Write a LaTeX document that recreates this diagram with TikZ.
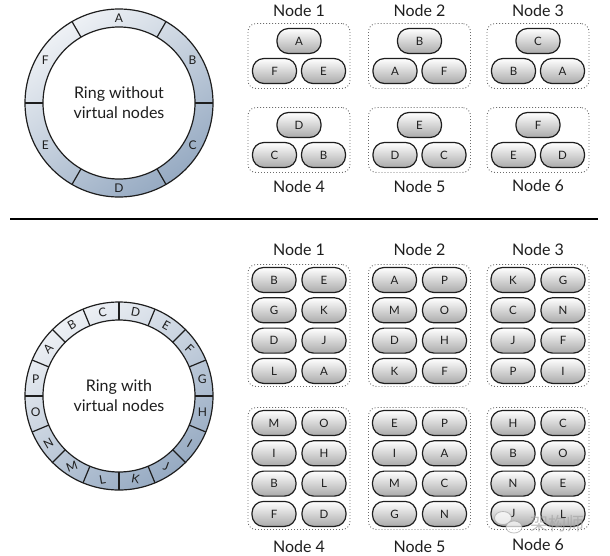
\documentclass[tikz,border=0pt]{standalone}
\usepackage{fontspec}
\setmainfont{Lato}
\newfontfamily\cjkfont{Noto Sans CJK SC}
\usetikzlibrary{shapes.geometric}
\definecolor{ringlight}{HTML}{EEF1F5}
\definecolor{ringmid}{HTML}{D6DDE7}
\definecolor{ringdark}{HTML}{96AAC2}
\definecolor{pillgray}{HTML}{AAAAAA}
\definecolor{ink}{HTML}{1E1E1E}
\tikzset{
  pill/.style={draw=ink, line width=1.2pt, rounded corners=11.5pt, minimum width=44pt,
    minimum height=25pt, inner sep=0pt, top color=white, bottom color=pillgray,
    font=\fontsize{11.5}{13}\selectfont, text=ink},
  groupbox/.style={draw=gray!85!black, line width=0.9pt, dash pattern=on 0.9pt off 2.1pt,
    rounded corners=8pt, minimum width=102pt, inner sep=0pt},
  nodelabel/.style={font=\fontsize{16}{18}\selectfont, text=ink, inner sep=0pt},
  ringlabel/.style={font=\fontsize{12}{14}\selectfont, text=ink, inner sep=0pt},
  ringtitle/.style={font=\fontsize{16}{20}\selectfont, align=center, text=ink},
  ringline/.style={draw=ink, line width=1.2pt},
}
\begin{document}
\begin{tikzpicture}[x=1pt,y=1pt]
\useasboundingbox (0,0) rectangle (610,-555);
\fill[white] (0,0) rectangle (610,-555);

% ---------- top ring ----------
\begin{scope}[shift={(119,-103)}]
  \shade[top color=ringlight, middle color=ringmid, bottom color=ringdark, shading angle=35] (0,0) circle (94);
  \fill[white] (0,0) circle (76);
  \draw[ringline] (0,0) circle (94) (0,0) circle (76);
  \foreach \a in {0,60,...,300} \draw[ringline] (\a:76) -- (\a:94);
  \foreach \a/\l in {90/A,30/B,-30/C,-90/D,210/E,150/F}
    \node[ringlabel] (ra\l) at (\a:85) {\l};
  \node[ringtitle] (title1) at (0,0) {Ring without\\virtual nodes};
\end{scope}

% ---------- top groups ----------
\foreach \cx/\cy/\n/\t/\l/\r/\ly in {
  299/56/1/A/F/E/11, 419.5/56/2/B/A/F/11, 538/56/3/C/B/A/11,
  299/140/4/D/C/B/187, 419.5/140/5/E/D/C/187, 538/140/6/F/E/D/186}{
  \node[groupbox, minimum height=65pt] (ga\n) at (\cx,-\cy) {};
  \node[pill] (ga\n t) at (\cx,-\cy+15) {\t};
  \node[pill] (ga\n l) at (\cx-24.5,-\cy-15) {\l};
  \node[pill] (ga\n r) at (\cx+24.5,-\cy-15) {\r};
  \node[nodelabel] (la\n) at (\cx,-\ly) {Node \n};
}

% ---------- separator ----------
\coordinate (sepL) at (10,-219);
\coordinate (sepR) at (598,-219);
\draw[black, line width=2.5pt] (sepL) -- (sepR);

% ---------- bottom ring ----------
\begin{scope}[shift={(119,-396)}]
  \shade[top color=ringlight, middle color=ringmid, bottom color=ringdark, shading angle=35] (0,0) circle (94);
  \fill[white] (0,0) circle (76);
  \draw[ringline] (0,0) circle (94) (0,0) circle (76);
  \foreach \a in {0,22.5,...,337.5} \draw[ringline] (\a:76) -- (\a:94);
  \foreach \a/\rot/\l in {78.75/-11/D, 56.25/-30/E, 33.75/-45/F, 11.25/0/G,
     -11.25/0/H, -33.75/-30/I, -56.25/-20/J, -78.75/-10/K,
     -101.25/10/L, -123.75/20/M, -146.25/30/N, -168.75/0/O,
     168.75/0/P, 146.25/45/A, 123.75/30/B, 101.25/11/C}
    \node[ringlabel, rotate=\rot] (rb\l) at (\a:85) {\l};
  \node[ringtitle] (title2) at (0,0) {Ring with\\virtual nodes};
\end{scope}

% ---------- bottom groups ----------
\foreach \cx/\cy/\n/\ly/\list in {
  299/325.5/1/250/{B,E,G,K,D,J,L,A},
  419.5/325.5/2/250/{A,P,M,O,D,H,K,F},
  538/325.5/3/250/{K,G,C,N,J,F,P,I},
  299/468.5/4/547/{M,O,I,H,B,L,F,D},
  419.5/468.5/5/547/{E,P,I,A,M,C,G,N},
  538/468.5/6/545/{H,C,B,O,N,E,J,L}}{
  \node[groupbox, minimum height=122pt] (gb\n) at (\cx,-\cy) {};
  \node[nodelabel] (lb\n) at (\cx,-\ly) {Node \n};
  \foreach \v [count=\i from 0] in \list {
    \pgfmathtruncatemacro{\row}{int(\i/2)}
    \pgfmathtruncatemacro{\col}{mod(\i,2)}
    \node[pill] (gb\n p\i) at ({\cx-25+50*\col},{-\cy+45.5-30.3*\row}) {\v};
  }
}

% ---------- watermark ----------
\begin{scope}[opacity=0.7]
  \node[draw=gray!70, fill=white, ellipse, minimum width=17pt, minimum height=13pt, inner sep=0pt, line width=0.8pt] (wm1) at (503,-518) {};
  \node[draw=gray!70, fill=white, ellipse, minimum width=16pt, minimum height=12pt, inner sep=0pt, line width=0.8pt] (wm2) at (514,-527) {};
  \node[text=gray!70, font=\cjkfont\fontsize{18}{20}\selectfont, inner sep=0pt] (wmt) at (557,-524) {架构师};
\end{scope}
\end{tikzpicture}
\end{document}
